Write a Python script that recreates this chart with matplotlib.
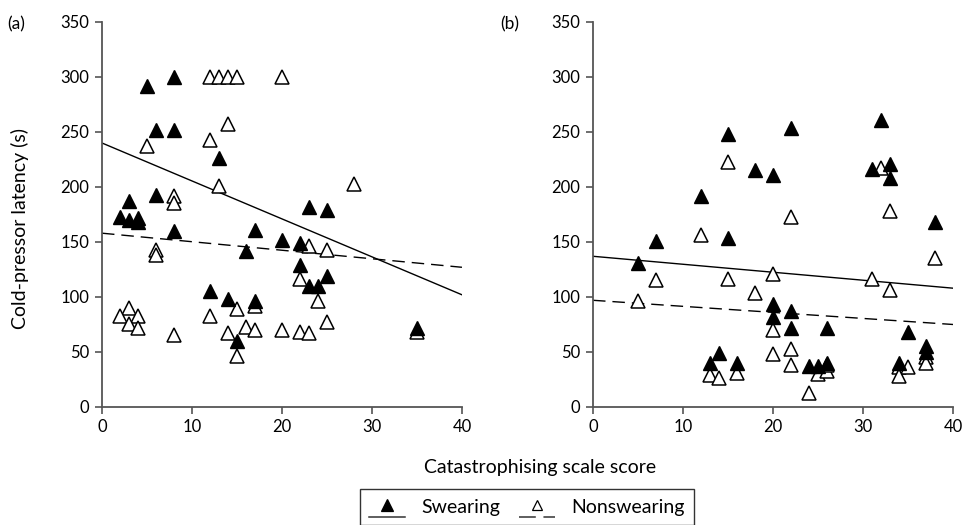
import numpy as np
import matplotlib
matplotlib.use('Agg')
import matplotlib.pyplot as plt
from matplotlib.lines import Line2D
from matplotlib.legend_handler import HandlerBase

plt.rcParams['font.family'] = ['Lato', 'DejaVu Sans']

# panel (a): swearing
a_sw_x = [5, 8, 6, 8, 13, 3, 6, 2, 3, 4, 4, 8, 17, 20, 16, 12, 14, 17, 15,
          23, 25, 22, 22, 25, 23, 24, 35]
a_sw_y = [292, 300, 252, 252, 226, 187, 193, 173, 170, 172, 168, 160, 161, 152, 142,
          105, 98, 96, 60, 182, 179, 149, 129, 119, 110, 110, 72]
# panel (a): nonswearing
a_ns_x = [12, 13, 14, 15, 20, 14, 5, 12, 13, 8, 8, 6, 6, 3, 2, 4, 3, 4, 8,
          12, 15, 17, 14, 16, 17, 20, 15, 28, 23, 25, 22, 24, 25, 22, 23, 35]
a_ns_y = [300, 300, 300, 300, 300, 257, 237, 243, 201, 192, 185, 143, 138, 90, 83, 83, 75, 72, 65,
          83, 89, 92, 67, 73, 70, 70, 46, 203, 146, 143, 116, 96, 77, 68, 67, 68]

# panel (b): swearing
b_sw_x = [15, 18, 20, 12, 7, 15, 5, 20, 20, 14, 13, 16, 22, 32, 31, 33, 33, 38,
          22, 22, 26, 35, 24, 25, 26, 37, 37, 34]
b_sw_y = [248, 215, 211, 192, 151, 154, 131, 94, 82, 49, 40, 40, 254, 261, 216, 221, 208, 168,
          87, 72, 72, 68, 37, 37, 40, 55, 50, 40]
# panel (b): nonswearing
b_ns_x = [15, 12, 7, 15, 5, 18, 20, 20, 20, 13, 14, 16, 32, 22, 33, 38, 31, 33,
          22, 22, 25, 26, 26, 24, 37, 37, 34, 35, 34]
b_ns_y = [223, 156, 115, 116, 96, 104, 121, 70, 48, 29, 26, 31, 217, 173, 178, 135, 116, 106,
          53, 38, 30, 33, 38, 13, 45, 40, 36, 36, 28]

# fitted lines (value at x=0 and x=40)
fit_x = [0, 40]
a_sw_fit = [240, 102]
a_ns_fit = [158, 127]
b_sw_fit = [137, 108]
b_ns_fit = [97, 75]


class RaisedMarker(HandlerBase):
    # line at the bottom of the handle box, marker sitting above it
    def create_artists(self, legend, orig_handle, xdescent, ydescent, width, height, fontsize, trans):
        x0 = -xdescent
        y0 = -ydescent - 3
        dashed = orig_handle.get_linestyle() == '--'
        ln = Line2D([x0, x0 + width], [y0, y0], color='#333333', lw=1.1)
        if dashed:
            ln.set_dashes((11, 5))
        mk = Line2D([x0 + width / 2], [y0 + height * 0.85], marker='^', linestyle='none',
                    markersize=8 if not dashed else 7.5,
                    markerfacecolor=orig_handle.get_markerfacecolor(),
                    markeredgecolor='black', markeredgewidth=0.9)
        ln.set_transform(trans)
        mk.set_transform(trans)
        return [ln, mk]


fig = plt.figure(figsize=(9.63, 5.25), dpi=100)
ax1 = fig.add_axes([0.1059, 0.2248, 0.3738, 0.7333])
ax2 = fig.add_axes([0.6158, 0.2248, 0.3738, 0.7333])

panels = [(ax1, a_sw_x, a_sw_y, a_ns_x, a_ns_y, a_sw_fit, a_ns_fit),
          (ax2, b_sw_x, b_sw_y, b_ns_x, b_ns_y, b_sw_fit, b_ns_fit)]

for ax, sx, sy, nx, ny, sfit, nfit in panels:
    ax.plot(fit_x, sfit, '-', color='black', lw=1, zorder=1)
    ax.plot(fit_x, nfit, '--', color='black', lw=1, dashes=(9, 5), zorder=1)
    ax.plot(nx, ny, '^', linestyle='none', markersize=10, markerfacecolor='white',
            markeredgecolor='black', markeredgewidth=1.1, zorder=2)
    ax.plot(sx, sy, '^', linestyle='none', markersize=10, markerfacecolor='black',
            markeredgecolor='black', zorder=3)
    ax.set_xlim(0, 40)
    ax.set_ylim(0, 350)
    ax.set_xticks([0, 10, 20, 30, 40])
    ax.set_yticks(np.arange(0, 351, 50))
    for s in ['top', 'right']:
        ax.spines[s].set_visible(False)
    for s in ['left', 'bottom']:
        ax.spines[s].set_color('#555555')
        ax.spines[s].set_linewidth(1.3)
    ax.tick_params(direction='out', length=5, width=1.2, color='#555555', labelsize=12, pad=4)
    ax.patch.set_alpha(0)

fig.text(0.008, 0.954, '(a)', fontsize=12.5, va='center')
fig.text(0.519, 0.954, '(b)', fontsize=12.5, va='center')
fig.text(0.021, 0.564, 'Cold-pressor latency (s)', fontsize=14, rotation=90,
         ha='center', va='center')
fig.text(0.561, 0.1086, 'Catastrophising scale score', fontsize=14, ha='center', va='center')

h_sw = Line2D([], [], linestyle='-', marker='^', markerfacecolor='black', color='black')
h_ns = Line2D([], [], linestyle='--', marker='^', markerfacecolor='white', color='black')
leg = fig.legend([h_sw, h_ns], ['Swearing', 'Nonswearing'], ncol=2,
                 loc='upper center', bbox_to_anchor=(0.547, 0.0686), borderaxespad=0,
                 handler_map={Line2D: RaisedMarker()}, fontsize=14,
                 frameon=True, fancybox=False, edgecolor='black', borderpad=0.5,
                 handlelength=1.85, columnspacing=1.0, handletextpad=0.8)
leg.get_frame().set_linewidth(1.0)

plt.savefig('out.png', dpi=100)
